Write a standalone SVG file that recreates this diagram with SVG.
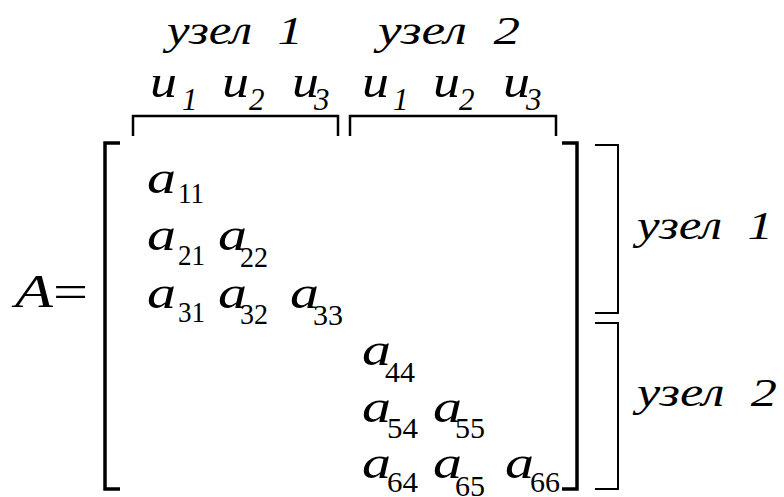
<svg xmlns="http://www.w3.org/2000/svg" width="784" height="497" viewBox="0 0 784 497">
<style>
.lbl{font-family:"Liberation Serif","Times New Roman",serif;font-style:italic;font-size:40px;fill:#000}
.u{font-family:"Liberation Serif","Times New Roman",serif;font-style:italic;font-size:46px;fill:#000}
.us{font-family:"Liberation Serif","Times New Roman",serif;font-style:italic;font-size:31px;fill:#000}
.a{font-family:"Liberation Serif","Times New Roman",serif;font-style:italic;font-size:47px;fill:#000}
.s{font-family:"Liberation Serif","Times New Roman",serif;font-size:30px;fill:#000}
.br{fill:none;stroke:#000;stroke-width:3.5}
.bt{fill:none;stroke:#000;stroke-width:2.5}
.bs{fill:none;stroke:#000;stroke-width:2}
</style>
<rect width="784" height="497" fill="#fff"/>
<g id="top-labels">
<text class="lbl" x="167" y="44" textLength="136" lengthAdjust="spacingAndGlyphs" xml:space="preserve">узел  1</text>
<text class="lbl" x="378" y="44" textLength="142" lengthAdjust="spacingAndGlyphs" xml:space="preserve">узел  2</text>
</g>
<g id="u-labels">
<text class="u" x="150" y="97" textLength="27" lengthAdjust="spacingAndGlyphs">u</text><text class="us" x="182" y="110">1</text>
<text class="u" x="222" y="97" textLength="27" lengthAdjust="spacingAndGlyphs">u</text><text class="us" x="249" y="110">2</text>
<text class="u" x="292" y="97" textLength="27" lengthAdjust="spacingAndGlyphs">u</text><text class="us" x="314" y="110">3</text>
<text class="u" x="362" y="97" textLength="27" lengthAdjust="spacingAndGlyphs">u</text><text class="us" x="393" y="110">1</text>
<text class="u" x="433" y="97" textLength="27" lengthAdjust="spacingAndGlyphs">u</text><text class="us" x="459" y="110">2</text>
<text class="u" x="503" y="97" textLength="27" lengthAdjust="spacingAndGlyphs">u</text><text class="us" x="526" y="110">3</text>
</g>
<g id="brackets">
<path class="bt" d="M133,136 V116 H338 V136"/>
<path class="bt" d="M350,136 V116 H556 V136"/>
<path class="br" d="M120,143 H105 V489 H120"/>
<path class="br" d="M562,143 H577 V489 H562"/>
<path class="bs" d="M595,145 H618 V313 H595"/>
<path class="bs" d="M595,323 H618 V489 H595"/>
</g>
<g id="lhs">
<text class="a" x="15" y="307" font-size="52" textLength="73" lengthAdjust="spacingAndGlyphs">A<tspan font-style="normal">=</tspan></text>
</g>
<g id="matrix">
<text class="a" x="147" y="193" textLength="29" lengthAdjust="spacingAndGlyphs">a</text><text class="s" x="178" y="203" textLength="26" lengthAdjust="spacingAndGlyphs">11</text>
<text class="a" x="147" y="250" textLength="29" lengthAdjust="spacingAndGlyphs">a</text><text class="s" x="178" y="265" textLength="27" lengthAdjust="spacingAndGlyphs">21</text>
<text class="a" x="218" y="250" textLength="29" lengthAdjust="spacingAndGlyphs">a</text><text class="s" x="240" y="267" textLength="28" lengthAdjust="spacingAndGlyphs">22</text>
<text class="a" x="147" y="308" textLength="29" lengthAdjust="spacingAndGlyphs">a</text><text class="s" x="178" y="322" textLength="27" lengthAdjust="spacingAndGlyphs">31</text>
<text class="a" x="218" y="308" textLength="29" lengthAdjust="spacingAndGlyphs">a</text><text class="s" x="240" y="324" textLength="28" lengthAdjust="spacingAndGlyphs">32</text>
<text class="a" x="290" y="308" textLength="29" lengthAdjust="spacingAndGlyphs">a</text><text class="s" x="313" y="325" textLength="30" lengthAdjust="spacingAndGlyphs">33</text>
<text class="a" x="362" y="365" textLength="29" lengthAdjust="spacingAndGlyphs">a</text><text class="s" x="385" y="382" textLength="30" lengthAdjust="spacingAndGlyphs">44</text>
<text class="a" x="362" y="422" textLength="29" lengthAdjust="spacingAndGlyphs">a</text><text class="s" x="387" y="438" textLength="31" lengthAdjust="spacingAndGlyphs">54</text>
<text class="a" x="433" y="422" textLength="29" lengthAdjust="spacingAndGlyphs">a</text><text class="s" x="455" y="438" textLength="30" lengthAdjust="spacingAndGlyphs">55</text>
<text class="a" x="362" y="478" textLength="29" lengthAdjust="spacingAndGlyphs">a</text><text class="s" x="387" y="492" textLength="31" lengthAdjust="spacingAndGlyphs">64</text>
<text class="a" x="433" y="478" textLength="29" lengthAdjust="spacingAndGlyphs">a</text><text class="s" x="455" y="496" textLength="30" lengthAdjust="spacingAndGlyphs">65</text>
<text class="a" x="505" y="478" textLength="29" lengthAdjust="spacingAndGlyphs">a</text><text class="s" x="530" y="492" textLength="30" lengthAdjust="spacingAndGlyphs">66</text>
</g>
<g id="right-labels">
<text class="lbl" x="637" y="239" font-size="46" textLength="136" lengthAdjust="spacingAndGlyphs" xml:space="preserve">узел  1</text>
<text class="lbl" x="637" y="406" font-size="46" textLength="140" lengthAdjust="spacingAndGlyphs" xml:space="preserve">узел  2</text>
</g>
</svg>
